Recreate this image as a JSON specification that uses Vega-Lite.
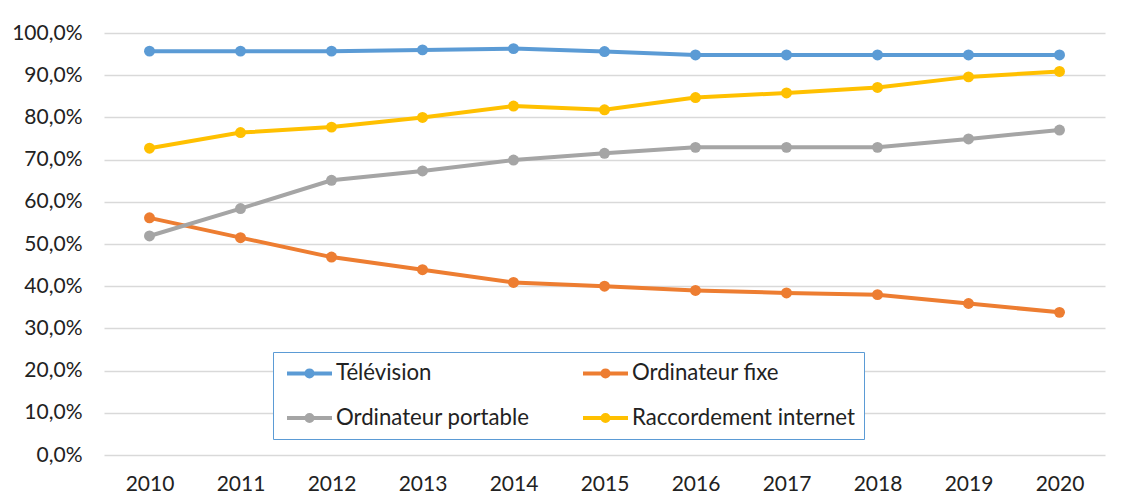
{
  "$schema": "https://vega.github.io/schema/vega-lite/v6.json",
  "autosize": "none",
  "width": 1001,
  "height": 422,
  "padding": {"left": 104, "top": 33, "right": 24, "bottom": 45},
  "background": "white",
  "config": {
    "font": "Lato",
    "view": {"stroke": null},
    "locale": {"number": {"decimal": ",", "thousands": " ", "grouping": [3], "currency": ["", " €"]}}
  },
  "data": {
    "values": [
      {"annee": "2010", "serie": "Télévision", "v": 0.957},
      {"annee": "2011", "serie": "Télévision", "v": 0.957},
      {"annee": "2012", "serie": "Télévision", "v": 0.957},
      {"annee": "2013", "serie": "Télévision", "v": 0.960},
      {"annee": "2014", "serie": "Télévision", "v": 0.963},
      {"annee": "2015", "serie": "Télévision", "v": 0.956},
      {"annee": "2016", "serie": "Télévision", "v": 0.948},
      {"annee": "2017", "serie": "Télévision", "v": 0.948},
      {"annee": "2018", "serie": "Télévision", "v": 0.948},
      {"annee": "2019", "serie": "Télévision", "v": 0.948},
      {"annee": "2020", "serie": "Télévision", "v": 0.948},
      {"annee": "2010", "serie": "Ordinateur fixe", "v": 0.562},
      {"annee": "2011", "serie": "Ordinateur fixe", "v": 0.515},
      {"annee": "2012", "serie": "Ordinateur fixe", "v": 0.469},
      {"annee": "2013", "serie": "Ordinateur fixe", "v": 0.439},
      {"annee": "2014", "serie": "Ordinateur fixe", "v": 0.409},
      {"annee": "2015", "serie": "Ordinateur fixe", "v": 0.400},
      {"annee": "2016", "serie": "Ordinateur fixe", "v": 0.390},
      {"annee": "2017", "serie": "Ordinateur fixe", "v": 0.384},
      {"annee": "2018", "serie": "Ordinateur fixe", "v": 0.380},
      {"annee": "2019", "serie": "Ordinateur fixe", "v": 0.359},
      {"annee": "2020", "serie": "Ordinateur fixe", "v": 0.338},
      {"annee": "2010", "serie": "Ordinateur portable", "v": 0.519},
      {"annee": "2011", "serie": "Ordinateur portable", "v": 0.584},
      {"annee": "2012", "serie": "Ordinateur portable", "v": 0.651},
      {"annee": "2013", "serie": "Ordinateur portable", "v": 0.673},
      {"annee": "2014", "serie": "Ordinateur portable", "v": 0.699},
      {"annee": "2015", "serie": "Ordinateur portable", "v": 0.715},
      {"annee": "2016", "serie": "Ordinateur portable", "v": 0.729},
      {"annee": "2017", "serie": "Ordinateur portable", "v": 0.729},
      {"annee": "2018", "serie": "Ordinateur portable", "v": 0.729},
      {"annee": "2019", "serie": "Ordinateur portable", "v": 0.749},
      {"annee": "2020", "serie": "Ordinateur portable", "v": 0.770},
      {"annee": "2010", "serie": "Raccordement internet", "v": 0.727},
      {"annee": "2011", "serie": "Raccordement internet", "v": 0.764},
      {"annee": "2012", "serie": "Raccordement internet", "v": 0.777},
      {"annee": "2013", "serie": "Raccordement internet", "v": 0.800},
      {"annee": "2014", "serie": "Raccordement internet", "v": 0.827},
      {"annee": "2015", "serie": "Raccordement internet", "v": 0.818},
      {"annee": "2016", "serie": "Raccordement internet", "v": 0.847},
      {"annee": "2017", "serie": "Raccordement internet", "v": 0.858},
      {"annee": "2018", "serie": "Raccordement internet", "v": 0.871},
      {"annee": "2019", "serie": "Raccordement internet", "v": 0.896},
      {"annee": "2020", "serie": "Raccordement internet", "v": 0.909}
    ]
  },
  "encoding": {
    "x": {
      "field": "annee", "type": "ordinal",
      "scale": {"type": "point", "padding": 0.5},
      "axis": {"title": null, "labelAngle": 0, "labelFontSize": 21, "labelColor": "#222", "labelPadding": 18, "domain": false, "ticks": false, "grid": false}
    },
    "y": {
      "field": "v", "type": "quantitative",
      "scale": {"domain": [0, 1], "nice": false},
      "axis": {"title": null, "format": ".1%", "values": [0, 0.1, 0.2, 0.3, 0.4, 0.5, 0.6, 0.7, 0.8, 0.9, 1], "labelFontSize": 21, "labelColor": "#222", "labelPadding": 22, "domain": false, "ticks": false, "grid": true, "gridColor": "#D9D9D9", "gridWidth": 1.5}
    },
    "color": {
      "field": "serie", "type": "nominal",
      "scale": {
        "domain": ["Télévision", "Ordinateur fixe", "Ordinateur portable", "Raccordement internet"],
        "range": ["#5B9BD5", "#ED7D31", "#A5A5A5", "#FFC000"]
      },
      "legend": {
        "title": null,
        "orient": "none",
        "legendX": 169,
        "legendY": 319,
        "columns": 2,
        "direction": "horizontal",
        "padding": 9,
        "strokeColor": "#5B9BD5",
        "fillColor": "white",
        "labelFont": "Lato",
        "labelFontSize": 22.2,
        "labelColor": "#222",
        "labelLimit": 400,
        "labelOffset": 30,
        "symbolType": "M-0.7,0L3.8,0M1.85,0A0.3,0.3 0 1,1 1.25,0A0.3,0.3 0 1,1 1.85,0Z",
        "symbolSize": 400,
        "symbolStrokeWidth": 4,
        "rowPadding": 21,
        "columnPadding": 45,
        "encode": {
          "symbols": {
            "update": {
              "fill": {"scale": "color", "field": "value"},
              "stroke": {"scale": "color", "field": "value"},
              "strokeWidth": {"value": 4},
              "opacity": {"value": 1}
            }
          }
        }
      }
    }
  },
  "mark": {"type": "line", "strokeWidth": 4, "point": {"filled": true, "size": 120, "opacity": 1}}
}
